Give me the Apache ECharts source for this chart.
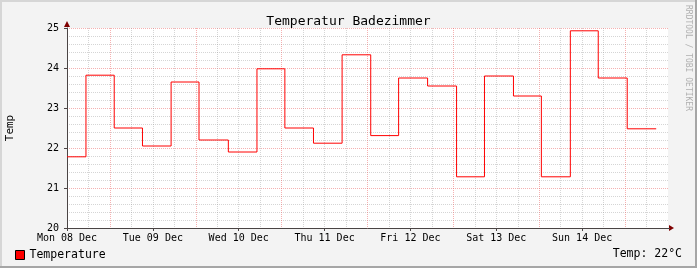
<!DOCTYPE html>
<html><head><meta charset="utf-8">
<script src="https://cdn.jsdelivr.net/npm/echarts@6/dist/echarts.min.js"></script>
<style>html,body{margin:0;padding:0;background:#f3f3f3}#c{width:697px;height:268px}</style>
</head><body><div id="c"></div>
<script>
const chartTitle = 'Temperatur Badezimmer';
const dayLabels = ['Mon 08 Dec','Tue 09 Dec','Wed 10 Dec','Thu 11 Dec','Fri 12 Dec','Sat 13 Dec','Sun 14 Dec'];
const yTickValues = [20, 21, 22, 23, 24, 25];
const stepStartHours = [0, 5.3, 13.2, 21.1, 29.1, 36.9, 45.1, 53.1, 60.9, 68.9, 76.9, 84.9, 92.7, 100.8, 108.9, 116.7, 124.8, 132.6, 140.7, 148.5, 156.6];
const stepEndHour = 164.7;
const temperature = [21.78, 23.82, 22.5, 22.05, 23.65, 22.2, 21.9, 23.98, 22.5, 22.12, 24.33, 22.31, 23.75, 23.55, 21.28, 23.8, 23.3, 21.28, 24.93, 23.75, 22.48];
const seriesName = 'Temperature';
const currentLabel = 'Temp: 22°C';
const watermark = 'RRDTOOL / TOBI OETIKER';

const FONT = '"DejaVu Sans Mono", monospace';
const GRIDC = 'rgba(150,150,150,0.4)';
const MGRIDC = 'rgba(235,100,100,0.5)';

const data = stepStartHours.map((h, i) => [h, temperature[i]]);
data.push([stepEndHour, temperature[temperature.length - 1]]);

const chart = echarts.init(document.getElementById('c'), null, {renderer: 'canvas'});
const option = {
  animation: false,
  backgroundColor: '#f3f3f3',
  title: {
    text: chartTitle, left: 'center', top: 10,
    textStyle: {fontFamily: FONT, fontSize: 13, fontWeight: 'normal', color: '#000'}
  },
  legend: {
    data: [seriesName], left: 15, top: 249, padding: 0, icon: 'rect', itemWidth: 9, itemHeight: 9, itemGap: 10,
    itemStyle: {borderColor: '#000', borderWidth: 1},
    textStyle: {fontFamily: FONT, fontSize: 11.5, color: '#000'}
  },
  grid: {left: 67, top: 28, width: 601, height: 200, backgroundColor: '#fff', show: true, borderWidth: 0,
         containLabel: false, outerBoundsMode: 'none'},
  xAxis: [{
    type: 'value', min: 0, max: 168, interval: 6,
    axisLine: {show: true, lineStyle: {color: '#4a4444', width: 1}},
    axisTick: {show: false}, axisLabel: {show: false},
    splitLine: {show: true, showMaxLine: false, lineStyle: {color: [GRIDC, GRIDC, MGRIDC, GRIDC], type: [1, 1], width: 1}}
  }, {
    type: 'value', min: 0, max: 168, interval: 24, position: 'bottom',
    axisLine: {show: false}, splitLine: {show: false},
    axisTick: {show: true, length: 3, lineStyle: {color: '#4a4444'}},
    axisLabel: {
      show: true, margin: 5, showMaxLabel: false,
      fontFamily: FONT, fontSize: 10, color: '#000',
      formatter: v => dayLabels[Math.round(v / 24)] || ''
    }
  }],
  yAxis: [{
    type: 'value', min: 20, max: 25, interval: 0.2,
    axisLine: {show: true, lineStyle: {color: '#4a4444', width: 1}},
    axisTick: {show: false}, axisLabel: {show: false},
    splitLine: {show: true, lineStyle: {color: [MGRIDC, GRIDC, GRIDC, GRIDC, GRIDC], type: [1, 1], width: 1}}
  }, {
    type: 'value', min: yTickValues[0], max: yTickValues[yTickValues.length - 1], interval: 1, position: 'left',
    axisLine: {show: false}, splitLine: {show: false},
    axisTick: {show: true, length: 3, lineStyle: {color: '#4a4444'}},
    axisLabel: {show: true, margin: 8, fontFamily: FONT, fontSize: 10, color: '#000'},
    name: 'Temp', nameLocation: 'middle', nameGap: 51, nameRotate: 90,
    nameTextStyle: {fontFamily: FONT, fontSize: 11, color: '#000'}
  }],
  series: [{
    name: seriesName, type: 'line', step: 'end', data: data,
    xAxisIndex: 0, yAxisIndex: 0,
    showSymbol: false, symbol: 'none',
    lineStyle: {color: '#ff0000', width: 1},
    itemStyle: {color: '#ff0000'}
  }]
};
chart.setOption(option);

const o = chart.convertToPixel({xAxisIndex: 0, yAxisIndex: 0}, [0, 25]);
const e = chart.convertToPixel({xAxisIndex: 0, yAxisIndex: 0}, [168, 20]);
chart.setOption({
  graphic: [
    {type: 'rect', shape: {x: 0, y: 0, width: 697, height: 2}, style: {fill: '#d6d6d6'}, silent: true},
    {type: 'rect', shape: {x: 0, y: 0, width: 2, height: 268}, style: {fill: '#d6d6d6'}, silent: true},
    {type: 'rect', shape: {x: 0, y: 266, width: 697, height: 2}, style: {fill: '#a6a6a6'}, silent: true},
    {type: 'rect', shape: {x: 695, y: 0, width: 2, height: 268}, style: {fill: '#a6a6a6'}, silent: true},
    {type: 'polygon', shape: {points: [[o[0] - 3, o[1] - 1], [o[0] + 3, o[1] - 1], [o[0], o[1] - 7]]}, style: {fill: '#7f0000'}, silent: true},
    {type: 'polygon', shape: {points: [[e[0] + 1, e[1] - 3], [e[0] + 1, e[1] + 3], [e[0] + 6, e[1]]]}, style: {fill: '#7f0000'}, silent: true},
    {type: 'line', shape: {x1: e[0], y1: e[1] + 0.5, x2: e[0] + 2, y2: e[1] + 0.5}, style: {stroke: '#4a4444', lineWidth: 1}, silent: true},
    {type: 'text', right: 15, top: 248, style: {text: currentLabel, font: '11.5px ' + FONT, fill: '#000'}, silent: true},
    {type: 'text', x: 688, y: 5, rotation: -Math.PI / 2, style: {text: watermark, font: '8px ' + FONT, fill: '#b0b0b0', textAlign: 'left', textVerticalAlign: 'middle'}, silent: true}
  ]
});
</script></body></html>
